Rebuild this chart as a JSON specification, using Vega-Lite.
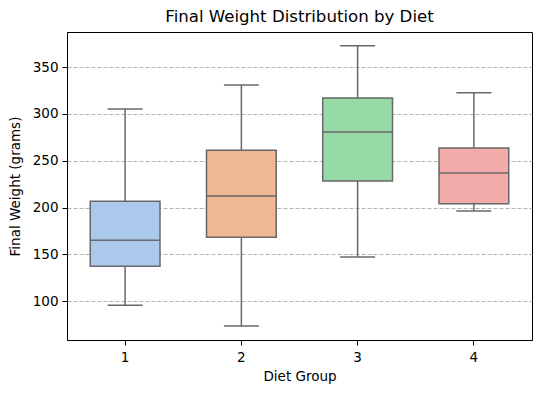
{
  "$schema": "https://vega.github.io/schema/vega-lite/v6.json",
  "autosize": {"type": "none"},
  "padding": {"left": 67, "top": 32, "right": 9, "bottom": 53},
  "width": 465,
  "height": 308,
  "title": {"text": "Final Weight Distribution by Diet", "fontSize": 16.6, "fontWeight": "normal", "font": "DejaVu Sans", "color": "#000", "offset": 6},
  "config": {
    "font": "DejaVu Sans",
    "view": {"stroke": "#000", "strokeWidth": 1},
    "axis": {"labelFont": "DejaVu Sans", "titleFont": "DejaVu Sans", "labelFontSize": 13.5, "titleFontSize": 13.5, "titleFontWeight": "normal", "labelColor": "#000", "titleColor": "#000", "tickColor": "#000", "domainColor": "#000", "tickSize": 5, "tickWidth": 1}
  },
  "data": {"values": [
    {"diet": "1", "low": 95.7, "q1": 137.4, "median": 165.2, "q3": 206.8, "high": 305.1},
    {"diet": "2", "low": 73.6, "q1": 168.4, "median": 212.5, "q3": 261.3, "high": 330.8},
    {"diet": "3", "low": 147.3, "q1": 228.5, "median": 280.6, "q3": 316.9, "high": 372.8},
    {"diet": "4", "low": 196.5, "q1": 204.0, "median": 236.8, "q3": 263.5, "high": 322.5}
  ]},
  "encoding": {
    "x": {"field": "diet", "type": "nominal", "scale": {"paddingInner": 0, "paddingOuter": 0}, "axis": {"title": "Diet Group", "labelAngle": 0, "labelPadding": 5, "titlePadding": 6, "grid": false}}
  },
  "layer": [
    {
      "mark": {"type": "rule", "color": "#686868", "strokeWidth": 1.5},
      "encoding": {
        "y": {"field": "low", "type": "quantitative", "scale": {"domain": [58.7, 387.4], "nice": false, "zero": false}, "axis": {"title": "Final Weight (grams)", "values": [100, 150, 200, 250, 300, 350], "grid": true, "gridColor": "#b3b3b3", "gridDash": [4, 2], "gridWidth": 1, "labelPadding": 4, "titlePadding": 10}},
        "y2": {"field": "high"}
      }
    },
    {
      "mark": {"type": "bar", "width": {"band": 0.6}, "stroke": "#686868", "strokeWidth": 1.5},
      "encoding": {
        "y": {"field": "q1", "type": "quantitative"},
        "y2": {"field": "q3"},
        "color": {"field": "diet", "type": "nominal", "scale": {"range": ["#abc9ea", "#efb792", "#98daa7", "#f2aba8"]}, "legend": null}
      }
    },
    {
      "mark": {"type": "tick", "size": 70, "thickness": 1.5, "color": "#686868", "opacity": 1},
      "encoding": {"y": {"field": "median", "type": "quantitative"}}
    },
    {
      "mark": {"type": "tick", "size": 35, "thickness": 1.5, "color": "#686868", "opacity": 1},
      "encoding": {"y": {"field": "low", "type": "quantitative"}}
    },
    {
      "mark": {"type": "tick", "size": 35, "thickness": 1.5, "color": "#686868", "opacity": 1},
      "encoding": {"y": {"field": "high", "type": "quantitative"}}
    }
  ]
}
